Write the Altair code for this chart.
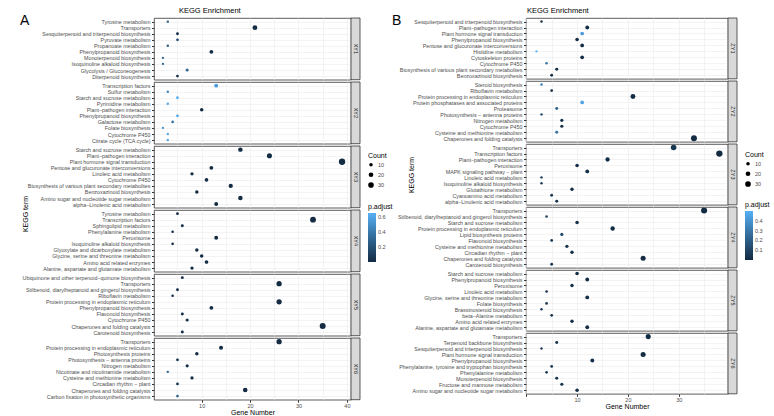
import altair as alt
import pandas as pd

FONT = "Liberation Sans Narrow, Liberation Sans, Arial, sans-serif"

# ---------------- Panel A : XY groups ----------------
groups_a = ["XY1", "XY2", "XY3", "XY4", "XY5", "XY6"]
terms_a = [
    ["Tyrosine metabolism", "Transporters", "Sesquiterpenoid and triterpenoid biosynthesis",
     "Pyruvate metabolism", "Propanoate metabolism", "Phenylpropanoid biosynthesis",
     "Monoterpenoid biosynthesis", "Isoquinoline alkaloid biosynthesis",
     "Glycolysis / Gluconeogenesis", "Diterpenoid biosynthesis"],
    ["Transcription factors", "Sulfur metabolism", "Starch and sucrose metabolism",
     "Pyrimidine metabolism", "Plant−pathogen interaction", "Phenylpropanoid biosynthesis",
     "Galactose metabolism", "Folate biosynthesis", "Cytochrome P450", "Citrate cycle (TCA cycle)"],
    ["Starch and sucrose metabolism", "Plant−pathogen interaction", "Plant hormone signal transduction",
     "Pentose and glucuronate interconversions", "Linoleic acid metabolism", "Cytochrome P450",
     "Biosynthesis of various plant secondary metabolites", "Benzoxazinoid biosynthesis",
     "Amino sugar and nucleotide sugar metabolism", "alpha−Linolenic acid metabolism"],
    ["Tyrosine metabolism", "Transcription factors", "Sphingolipid metabolism",
     "Phenylalanine metabolism", "Peroxisome", "Isoquinoline alkaloid biosynthesis",
     "Glyoxylate and dicarboxylate metabolism", "Glycine, serine and threonine metabolism",
     "Amino acid related enzymes", "Alanine, aspartate and glutamate metabolism"],
    ["Ubiquinone and other terpenoid−quinone biosynthesis", "Transporters",
     "Stilbenoid, diarylheptanoid and gingerol biosynthesis", "Riboflavin metabolism",
     "Protein processing in endoplasmic reticulum", "Phenylpropanoid biosynthesis",
     "Flavonoid biosynthesis", "Cytochrome P450", "Chaperones and folding catalysts",
     "Carotenoid biosynthesis"],
    ["Transporters", "Protein processing in endoplasmic reticulum", "Photosynthesis proteins",
     "Photosynthesis − antenna proteins", "Nitrogen metabolism",
     "Nicotinate and nicotinamide metabolism", "Cysteine and methionine metabolism",
     "Circadian rhythm − plant", "Chaperones and folding catalysts",
     "Carbon fixation in photosynthetic organisms"],
]
genes_a = [
    [3, 21, 5, 5, 3, 12, 2, 2, 7, 5],
    [13, 3, 5, 3, 10, 5, 4, 2, 3, 3],
    [18, 24, 39, 12, 8, 11, 16, 9, 18, 13],
    [5, 33, 6, 4, 13, 4, 9, 10, 11, 8],
    [6, 26, 5, 4, 26, 12, 6, 7, 35, 6],
    [26, 14, 9, 5, 7, 3, 8, 5, 19, 5],
]
padj_a = [
    [0.28, 0.01, 0.02, 0.20, 0.27, 0.01, 0.30, 0.30, 0.30, 0.03],
    [0.55, 0.45, 0.65, 0.60, 0.01, 0.62, 0.36, 0.50, 0.62, 0.62],
    [0.001, 0.001, 0.001, 0.002, 0.01, 0.005, 0.002, 0.01, 0.002, 0.005],
    [0.02, 0.001, 0.02, 0.03, 0.005, 0.03, 0.01, 0.01, 0.01, 0.01],
    [0.02, 0.001, 0.02, 0.03, 0.001, 0.005, 0.02, 0.02, 0.001, 0.02],
    [0.001, 0.005, 0.02, 0.04, 0.02, 0.30, 0.02, 0.06, 0.002, 0.30],
]

# ---------------- Panel B : ZY groups ----------------
groups_b = ["ZY1", "ZY2", "ZY3", "ZY4", "ZY5", "ZY6"]
terms_b = [
    ["Sesquiterpenoid and triterpenoid biosynthesis", "Plant−pathogen interaction",
     "Plant hormone signal transduction", "Phenylpropanoid biosynthesis",
     "Pentose and glucuronate interconversions", "Histidine metabolism", "Cytoskeleton proteins",
     "Cytochrome P450", "Biosynthesis of various plant secondary metabolites",
     "Benzoxazinoid biosynthesis"],
    ["Steroid biosynthesis", "Riboflavin metabolism", "Protein processing in endoplasmic reticulum",
     "Protein phosphatases and associated proteins", "Proteasome",
     "Photosynthesis − antenna proteins", "Nitrogen metabolism", "Cytochrome P450",
     "Cysteine and methionine metabolism", "Chaperones and folding catalysts"],
    ["Transporters", "Transcription factors", "Plant−pathogen interaction", "Peroxisome",
     "MAPK signaling pathway − plant", "Linoleic acid metabolism",
     "Isoquinoline alkaloid biosynthesis", "Glutathione metabolism",
     "Cyanoamino acid metabolism", "alpha−Linolenic acid metabolism"],
    ["Transporters", "Stilbenoid, diarylheptanoid and gingerol biosynthesis",
     "Starch and sucrose metabolism", "Protein processing in endoplasmic reticulum",
     "Lipid biosynthesis proteins", "Flavonoid biosynthesis", "Cysteine and methionine metabolism",
     "Circadian rhythm − plant", "Chaperones and folding catalysts", "Carotenoid biosynthesis"],
    ["Starch and sucrose metabolism", "Phenylpropanoid biosynthesis", "Peroxisome",
     "Linoleic acid metabolism", "Glycine, serine and threonine metabolism", "Folate biosynthesis",
     "Brassinosteroid biosynthesis", "beta−Alanine metabolism", "Amino acid related enzymes",
     "Alanine, aspartate and glutamate metabolism"],
    ["Transporters", "Terpenoid backbone biosynthesis",
     "Sesquiterpenoid and triterpenoid biosynthesis", "Plant hormone signal transduction",
     "Phenylpropanoid biosynthesis", "Phenylalanine, tyrosine and tryptophan biosynthesis",
     "Phenylalanine metabolism", "Monoterpenoid biosynthesis", "Fructose and mannose metabolism",
     "Amino sugar and nucleotide sugar metabolism"],
]
genes_b = [
    [3, 12, 11, 10, 11, 2, 11, 4, 6, 5],
    [3, 5, 21, 11, 6, 3, 7, 7, 6, 33],
    [29, 38, 16, 10, 12, 3, 3, 9, 5, 6],
    [35, 4, 10, 17, 7, 5, 8, 9, 23, 5],
    [10, 12, 9, 4, 12, 4, 3, 5, 9, 12],
    [24, 6, 3, 23, 13, 5, 4, 6, 7, 10],
]
padj_b = [
    [0.03, 0.01, 0.42, 0.01, 0.01, 0.50, 0.01, 0.30, 0.01, 0.02],
    [0.33, 0.03, 0.001, 0.45, 0.22, 0.10, 0.02, 0.02, 0.28, 0.001],
    [0.05, 0.001, 0.01, 0.02, 0.02, 0.06, 0.06, 0.01, 0.05, 0.05],
    [0.001, 0.12, 0.03, 0.01, 0.12, 0.05, 0.03, 0.02, 0.005, 0.05],
    [0.02, 0.01, 0.02, 0.04, 0.01, 0.04, 0.05, 0.04, 0.02, 0.01],
    [0.01, 0.03, 0.06, 0.005, 0.02, 0.05, 0.05, 0.03, 0.03, 0.02],
]

GRID = "#EBEBEB"
BORDER = "#333333"
TXT = "#4D4D4D"


def facet(terms, genes, padj, group, W, H, xdom, cdom, sdom, cvals, legpos, bottom, extras):
    df = pd.DataFrame({"term": terms, "genes": genes, "padj": padj})
    xbreaks = [0, 5, 10, 15, 20, 25, 30, 35, 40]
    if bottom:
        xaxis = alt.Axis(
            values=xbreaks, title="Gene Number", grid=True, domain=False,
            labelExpr="datum.value % 10 === 0 && datum.value > 0 ? datum.label : ''",
            tickOpacity={"condition": {"test": "datum.value % 10 === 0", "value": 1}, "value": 0},
            tickSize=2.5, tickColor=BORDER, labelFontSize=5.5, labelColor=TXT, labelFont=FONT,
            labelPadding=1, titleFontSize=7, titleFont=FONT, titleFontWeight="normal",
            titleColor="#000000", titlePadding=0,
        )
    else:
        xaxis = alt.Axis(values=xbreaks, title=None, grid=True, domain=False, labels=False,
                         ticks=False, minExtent=0, maxExtent=0)
    lx, ly_s, ly_c = legpos
    pts = alt.Chart(df).mark_circle(opacity=1).encode(
        x=alt.X("genes:Q", scale=alt.Scale(domain=xdom, nice=False, zero=False), axis=xaxis),
        y=alt.Y("term:N", sort=terms, scale=alt.Scale(padding=0.6),
                axis=alt.Axis(title=None, grid=True, domain=False, tickSize=2.5, tickColor=BORDER,
                              labelFontSize=5.35, labelColor=TXT, labelFont=FONT, labelPadding=1.5,
                              labelLimit=400)),
        size=alt.Size("genes:Q", scale=alt.Scale(domain=sdom, range=[5, 40], zero=False),
                      legend=alt.Legend(title="Count", values=[10, 20, 30], orient="none",
                                        legendX=lx, legendY=ly_s, symbolFillColor="#000000",
                                        symbolStrokeWidth=0, titleFontSize=7, titleFont=FONT,
                                        titleFontWeight="normal", labelFontSize=5.5, labelFont=FONT,
                                        labelColor=TXT, rowPadding=3, titlePadding=3)),
        color=alt.Color("padj:Q",
                        scale=alt.Scale(domain=cdom, range=["#132B43", "#56B1F7"], interpolate="lab"),
                        legend=alt.Legend(title="p.adjust", orient="none", legendX=lx, legendY=ly_c,
                                          direction="vertical", gradientLength=49, gradientThickness=8,
                                          gradientStrokeWidth=0, values=cvals, titleFontSize=7,
                                          titleFont=FONT, titleFontWeight="normal", labelFontSize=5.5,
                                          labelFont=FONT, labelColor=TXT, titlePadding=3,
                                          tickCount=len(cvals))),
    )
    sdf = pd.DataFrame({"group": [group]})
    strip = alt.Chart(sdf).mark_rect(fill="#D9D9D9", stroke=BORDER, strokeWidth=0.8).encode(
        x=alt.value(W), x2=alt.value(W + 9), y=alt.value(0), y2=alt.value(H))
    strip_txt = alt.Chart(sdf).mark_text(angle=90, fontSize=5.5, font=FONT, color="#1A1A1A").encode(
        x=alt.value(W + 4.5), y=alt.value(H / 2), text="group:N")
    layers = [pts, strip, strip_txt] + extras
    return alt.layer(*layers).properties(width=W, height=H)


def text_layer(label, x, y, size, angle=0, align="left"):
    d = pd.DataFrame({"t": [label]})
    return alt.Chart(d).mark_text(fontSize=size, font=FONT, angle=angle, align=align,
                                  baseline="middle", color="#000000").encode(
        x=alt.value(x), y=alt.value(y), text="t:N")


def panel(letter, groups, terms, genes, padj, W, H, xdom, cvals, legpos, title_x, ytitle_pos):
    allp = [v for row in padj for v in row]
    allg = [v for row in genes for v in row]
    cdom = [min(allp), max(allp)]
    sdom = [min(allg), max(allg)]
    rows = []
    for i, g in enumerate(groups):
        extras = []
        if i == 0:
            extras += [text_layer(letter, -134, 3, 14),
                       text_layer("KEGG Enrichment", title_x, -7, 7.5)]
        if i == ytitle_pos[0]:
            extras += [text_layer("KEGG term", ytitle_pos[1], ytitle_pos[2], 7, angle=270, align="center")]
        rows.append(facet(terms[i], genes[i], padj[i], g, W, H, xdom, cdom, sdom, cvals,
                          legpos, i == len(groups) - 1, extras))
    return alt.vconcat(*rows, spacing=2, bounds="flush").resolve_scale(
        x="shared", y="independent", color="shared", size="shared")


panel_a = panel("A", groups_a, terms_a, genes_a, padj_a, 197, 61.7, [0.15, 40.85],
                [0.2, 0.4, 0.6], (214, 134, 185), 25, (3, -128, 4))
panel_b = panel("B", groups_b, terms_b, genes_b, padj_b, 202, 60.8, [-0.05, 39.7],
                [0.1, 0.2, 0.3, 0.4], (219, 133, 183), 1, (2, -114, 31))

chart = alt.hconcat(panel_a, panel_b, spacing=372, bounds="flush").resolve_scale(
    color="independent", size="independent", x="independent"
).resolve_legend(color="independent", size="independent").properties(
    padding={"left": 19, "top": 6, "right": 0, "bottom": 0}
).configure_view(stroke=BORDER, strokeWidth=0.8).configure_axis(
    gridColor=GRID, gridWidth=0.6
)

chart.save("out.html", embed_options={"renderer": "svg", "actions": False})
